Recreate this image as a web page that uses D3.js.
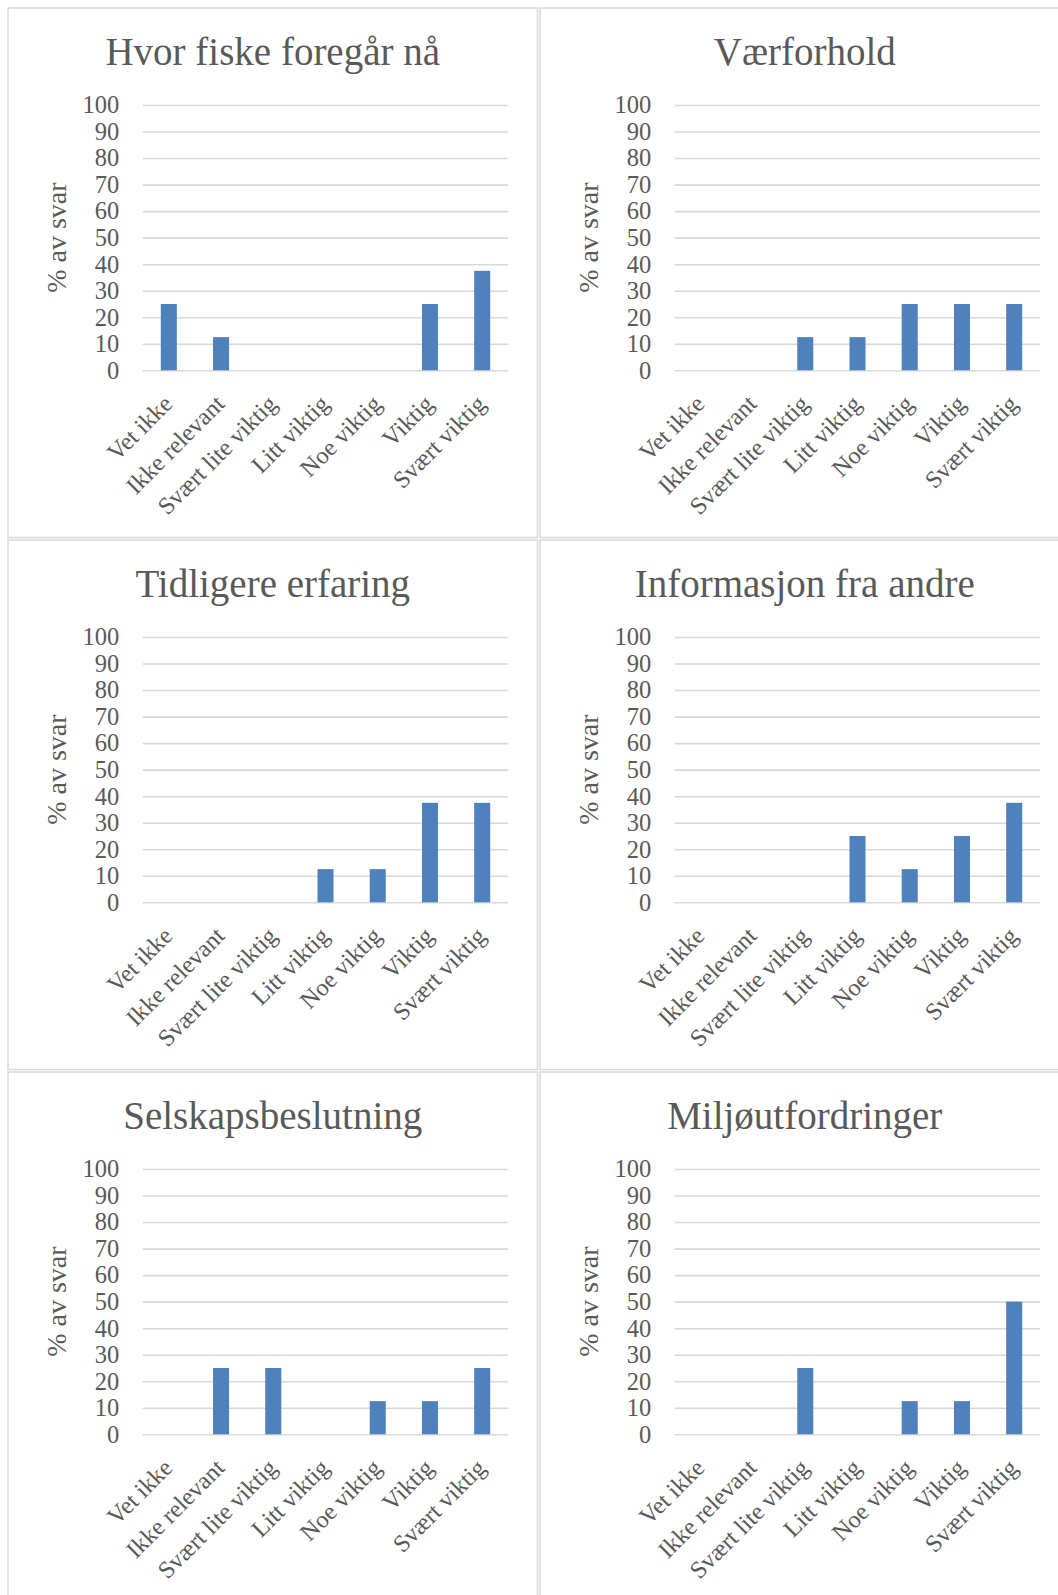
<!DOCTYPE html>
<html>
<meta charset="utf-8">
<script src="https://cdn.jsdelivr.net/npm/d3@7"></script>
<style>
  body { margin: 0; background: #fff; }
  text { font-family: "Liberation Serif", "Times New Roman", serif; fill: #595959; }
</style>
<body>
<div id="plot_area"></div>
<script>

// answer categories (same on every chart)
var categories = ["Vet ikke", "Ikke relevant", "Svært lite viktig", "Litt viktig", "Noe viktig", "Viktig", "Svært viktig"];
var yTicks = [0, 10, 20, 30, 40, 50, 60, 70, 80, 90, 100];
var yTitle = "% av svar";

var titles = ["Hvor fiske foregår nå", "Værforhold", "Tidligere erfaring",
              "Informasjon fra andre", "Selskapsbeslutning", "Miljøutfordringer"];

// % of answers per category
var hvorFiske       = [25, 12.5, 0, 0, 0, 25, 37.5];
var vaerforhold     = [0, 0, 12.5, 12.5, 25, 25, 25];
var tidligere       = [0, 0, 0, 12.5, 12.5, 37.5, 37.5];
var informasjon     = [0, 0, 0, 25, 12.5, 25, 37.5];
var selskap         = [0, 25, 25, 0, 12.5, 12.5, 25];
var miljo           = [0, 0, 25, 0, 12.5, 12.5, 50];

var series = [hvorFiske, vaerforhold, tidligere, informasjon, selskap, miljo];

var W = 1058, H = 1595;
var panelSize = 529.5, pitch = 532;
var margin = {top: 97, left: 134.7},
    width = 365.6,
    height = 265.3;

var svg = d3.select("#plot_area")
  .append("svg")
    .attr("width", W)
    .attr("height", H);

function drawPanel(i) {
  var px = 8 + (i % 2) * pitch,
      py = 8 + Math.floor(i / 2) * pitch;
  var values = series[i];

  var panel = svg.append("g")
    .attr("transform", "translate(" + px + "," + py + ")");

  panel.append("rect")
    .attr("x", 0).attr("y", 0)
    .attr("width", panelSize).attr("height", panelSize)
    .attr("fill", "#fff")
    .attr("stroke", "#d9d9d9")
    .attr("stroke-width", 1.5);

  panel.append("text")
    .attr("x", panelSize / 2)
    .attr("y", 57.4)
    .attr("text-anchor", "middle")
    .style("font-size", "39px")
    .text(titles[i]);

  var g = panel.append("g")
    .attr("transform", "translate(" + margin.left + "," + margin.top + ")");

  var x = d3.scaleBand()
    .domain(categories)
    .range([0, width])
    .paddingInner(0.693)
    .paddingOuter(0.3465);

  var y = d3.scaleLinear()
    .domain([0, 100])
    .range([height, 0]);

  // gridlines + y labels
  var yAxis = g.append("g")
    .call(d3.axisLeft(y).tickValues(yTicks).tickSize(-width).tickPadding(23.4));
  yAxis.select(".domain").remove();
  yAxis.selectAll("line")
    .attr("stroke", "#d9d9d9")
    .attr("stroke-width", 1.6);
  yAxis.selectAll("text")
    .attr("fill", "#595959")
    .style("font-family", "Liberation Serif")
    .style("font-size", "24.5px");

  // bars
  g.selectAll("rect.bar")
    .data(values)
    .enter()
    .append("rect")
      .attr("class", "bar")
      .attr("x", function(d, j) { return x(categories[j]); })
      .attr("y", function(d) { return y(d); })
      .attr("width", x.bandwidth())
      .attr("height", function(d) { return height - y(d); })
      .attr("fill", "#4f81bd");

  // rotated category labels
  g.append("g")
    .selectAll("text")
    .data(categories)
    .enter()
    .append("text")
      .attr("text-anchor", "end")
      .attr("transform", function(d) {
        return "translate(" + (x(d) + x.bandwidth() / 2 + 5) + "," + (height + 35) + ")rotate(-45)";
      })
      .style("font-size", "24.3px")
      .text(function(d) { return d; });

  // y axis title
  panel.append("text")
    .attr("text-anchor", "middle")
    .attr("transform", "translate(58," + (margin.top + height / 2) + ")rotate(-90)")
    .style("font-size", "28px")
    .text(yTitle);
}

for (var i = 0; i < series.length; i++) drawPanel(i);

</script>
</body>
</html>
